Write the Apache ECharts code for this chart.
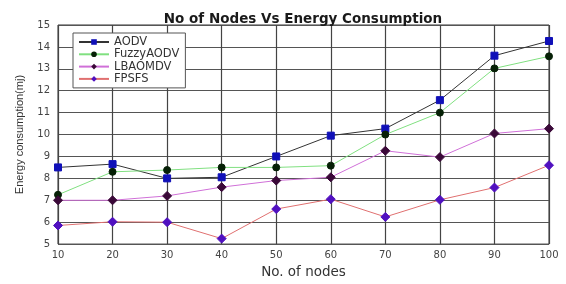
<!DOCTYPE html>
<html>
<head>
<meta charset="utf-8">
<script src="https://cdn.jsdelivr.net/npm/echarts@6/dist/echarts.min.js"></script>
<style>
  html, body { margin: 0; padding: 0; background: #fff; }
  #main { width: 566px; height: 284px; }
</style>
</head>
<body>
<div id="main"></div>
<script>
// 节点数
const nodes = [10, 20, 30, 40, 50, 60, 70, 80, 90, 100]
const aodv = [8.5, 8.65, 8.0, 8.05, 9.0, 9.95, 10.27, 11.57, 13.6, 14.27]
const fuzzyAodv = [7.25, 8.3, 8.38, 8.5, 8.5, 8.58, 10.0, 11.0, 13.02, 13.57]
const lbaomdv = [7.0, 7.0, 7.2, 7.6, 7.9, 8.05, 9.26, 8.97, 10.05, 10.27]
const fpsfs = [5.85, 6.02, 6.0, 5.25, 6.6, 7.05, 6.24, 7.02, 7.58, 8.6]

const myChart = echarts.init(document.getElementById('main'))

function pairs(vals) {
  return nodes.map((n, i) => [n, vals[i]])
}

function makeSeries(name, vals, lineColor, symbol, symColor, size) {
  return {
    name: name,
    type: 'line',
    data: pairs(vals),
    symbol: symbol,
    symbolSize: size,
    lineStyle: { color: lineColor, width: 1 },
    itemStyle: { color: symColor, borderColor: symColor },
    emphasis: { disabled: true }
  }
}

myChart.setOption({
  animation: false,
  title: {
    text: 'No of Nodes Vs Energy Consumption',
    left: 298,
    textAlign: 'center',
    top: 7,
    textStyle: { fontFamily: 'DejaVu Sans', fontSize: 13.5, fontWeight: 'bold', color: '#1a1a1a' }
  },
  legend: {
    orient: 'vertical',
    left: 73,
    top: 33,
    padding: [3, 6, 3, 5],
    itemGap: 0.3,
    itemWidth: 30,
    itemHeight: 7,
    backgroundColor: '#fff',
    borderColor: '#555',
    borderWidth: 1,
    textStyle: { fontFamily: 'DejaVu Sans', fontSize: 11.5, lineHeight: 10, color: '#333' },
    data: ['AODV', 'FuzzyAODV', 'LBAOMDV', 'FPSFS']
  },
  grid: {
    left: 58,
    right: 17,
    top: 25,
    bottom: 31,
    show: true,
    borderColor: '#333',
    borderWidth: 1
  },
  xAxis: {
    type: 'value',
    min: 10,
    max: 100,
    interval: 10,
    name: 'No. of nodes',
    nameLocation: 'middle',
    nameGap: 20,
    nameTextStyle: { fontFamily: 'DejaVu Sans', fontSize: 13.5, color: '#333' },
    axisLine: { show: false },
    axisTick: { show: false },
    axisLabel: { fontFamily: 'DejaVu Sans', fontSize: 10, color: '#444', margin: 6 },
    splitLine: { show: true, lineStyle: { color: '#444', width: 1.2 } }
  },
  yAxis: {
    type: 'value',
    min: 5,
    max: 15,
    interval: 1,
    name: 'Energy consumption(mj)',
    nameLocation: 'middle',
    nameGap: 33,
    nameTextStyle: { fontFamily: 'Liberation Sans', fontSize: 11, color: '#333' },
    axisLine: { show: false },
    axisTick: { show: false },
    axisLabel: { fontFamily: 'DejaVu Sans', fontSize: 10, color: '#444', margin: 8 },
    splitLine: { show: true, lineStyle: { color: '#555', width: 1.2 } }
  },
  series: [
    makeSeries('AODV', aodv, '#333', 'rect', '#1010b8', 7),
    makeSeries('FuzzyAODV', fuzzyAodv, '#80e080', 'circle', '#062006', 7),
    makeSeries('LBAOMDV', lbaomdv, '#d070d8', 'diamond', '#3a0838', 9),
    makeSeries('FPSFS', fpsfs, '#e07070', 'diamond', '#5010c0', 9)
  ]
})
</script>
</body>
</html>
